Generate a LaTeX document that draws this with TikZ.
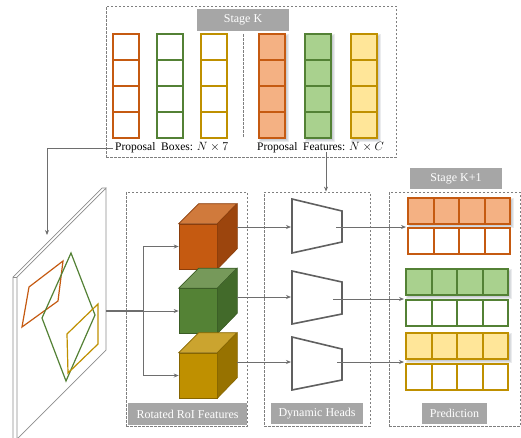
\documentclass[tikz,border=0pt]{standalone}
\usepackage{fontspec}
\setmainfont{Liberation Serif}
\usetikzlibrary{arrows.meta,calc}
\definecolor{orS}{HTML}{C55A11}
\definecolor{orF}{HTML}{F4B183}
\definecolor{grS}{HTML}{538135}
\definecolor{grF}{HTML}{A9D18E}
\definecolor{yeS}{HTML}{BF9000}
\definecolor{yeF}{HTML}{FFE699}
\definecolor{lblgray}{HTML}{A6A6A6}
\definecolor{linegray}{HTML}{6E6E6E}
\definecolor{dashgray}{HTML}{7F7F7F}
\definecolor{planegray}{HTML}{8C8C8C}
\definecolor{headgray}{HTML}{606060}
\definecolor{shadowcol}{HTML}{4A5566}
\definecolor{c1f}{HTML}{C55A11}\definecolor{c1t}{HTML}{D07A3C}\definecolor{c1r}{HTML}{9C450D}\definecolor{c1s}{HTML}{8A3D0B}
\definecolor{c2f}{HTML}{548235}\definecolor{c2t}{HTML}{76995A}\definecolor{c2r}{HTML}{426A2A}\definecolor{c2s}{HTML}{3A5C25}
\definecolor{c3f}{HTML}{BF9000}\definecolor{c3t}{HTML}{CBA42F}\definecolor{c3r}{HTML}{977200}\definecolor{c3s}{HTML}{866500}
\newcommand\vbarcells[4]{%
  \fill[#4] (#1,#2) rectangle ({#1+26},{#2+104});
  \foreach \i in {26,52,78}{\draw[draw=#3,line width=1.5pt] (#1,{#2+\i}) -- ({#1+26},{#2+\i});}
  \draw[draw=#3,line width=1.5pt] (#1,#2) rectangle ({#1+26},{#2+104});}
\newcommand\hrowcells[4]{%
  \fill[#4] (#1,#2) rectangle ({#1+102},{#2+26});
  \foreach \i in {26,51,77}{\draw[draw=#3,line width=1.5pt] ({#1+\i},#2) -- ({#1+\i},{#2+26});}
  \draw[draw=#3,line width=1.5pt] (#1,#2) rectangle ({#1+102},{#2+26});}
\newcommand\softshadow[4]{\foreach \s in {1,2,3,4}{\fill[shadowcol,opacity=0.11] ({#1+4-\s},{#2+4-\s}) rectangle ({#3+\s},{#4+\s});}}
\newcommand\cubefaces[4]{% node, top, right, stroke
  \draw[fill=#2,draw=#4,line width=0.6pt] (#1.north west) -- ++(20,-20) -- ++(38,0) -- (#1.north east) -- cycle;
  \draw[fill=#3,draw=#4,line width=0.6pt] (#1.north east) -- ++(20,-20) -- ++(0,45) -- (#1.south east) -- cycle;}
\begin{document}
\begin{tikzpicture}[x=1pt,y=-1pt,>={Stealth[length=5pt,width=4pt]},
  dashbox/.style={draw=dashgray,dash pattern=on 2.5pt off 1.5pt,line width=0.8pt},
  lbl/.style={fill=lblgray,text=white,inner sep=0pt,font=\fontsize{12}{14}\selectfont},
  conn/.style={draw=linegray,line width=1pt,->},
  plain/.style={draw=linegray,line width=1pt},
  headshape/.style={draw=headgray,line width=1.6pt,fill=white},
  cubefront/.style={minimum width=38pt,minimum height=45pt,inner sep=0pt,line width=0.6pt},
  txt/.style={font=\fontsize{11.5}{13}\selectfont,inner sep=2pt}]
\useasboundingbox (0,0) rectangle (521,437);
% dashed frames
\node[dashbox,minimum width=290pt,minimum height=151pt] (topbox) at (251,81.5) {};
\node[dashbox,minimum width=121pt,minimum height=234pt] (roibox) at (186.5,309) {};
\node[dashbox,minimum width=106pt,minimum height=234pt] (headbox) at (317,309) {};
\node[dashbox,minimum width=131pt,minimum height=234pt] (predbox) at (454.5,309) {};
% labels
\node[lbl,minimum width=92pt,minimum height=22pt] (stagek) at (243,20) {Stage K};
\node[lbl,minimum width=92pt,minimum height=21pt] (stagek1) at (456,178.5) {Stage K+1};
\node[lbl,minimum width=119pt,minimum height=22pt] (roilbl) at (187.5,414) {Rotated RoI Features};
\node[lbl,minimum width=92pt,minimum height=21pt] (headlbl) at (317,413.5) {Dynamic Heads};
\node[lbl,minimum width=65pt,minimum height=21pt] (predlbl) at (454.5,413.5) {Prediction};
% proposal boxes
\vbarcells{113}{34}{orS}{white}
\vbarcells{157}{34}{grS}{white}
\vbarcells{201}{34}{yeS}{white}
\draw[dashgray,dash pattern=on 2.5pt off 1.5pt,line width=0.8pt] (243,34) -- (243,137);
% proposal features
\softshadow{259}{34}{285}{138}
\softshadow{305}{34}{331}{138}
\softshadow{351}{34}{377}{138}
\vbarcells{259}{34}{orS}{orF}
\vbarcells{305}{34}{grS}{grF}
\vbarcells{351}{34}{yeS}{yeF}
\node[txt,anchor=west] (pbtext) at (113,148) {Proposal~~Boxes: $N\times 7$};
\node[txt,anchor=west] (pftext) at (255,148) {Proposal~~Features: $N\times C$};
% image plane
\draw[planegray,line width=0.7pt] (13,440) -- (13,277) -- (102,188) -- (106,188);
\draw[planegray,line width=0.7pt,fill=white] (17,440) -- (17,277) -- (106,188) -- (106,350) -- (17,439);
\draw[planegray,line width=0.7pt] (13,277) -- (17,277);
\draw[orS,line width=1.2pt] (29,287) -- (63,261) -- (58,301) -- (22,327) -- cycle;
\draw[grS,line width=1.2pt] (71,253) -- (95,315) -- (66,381) -- (42,318) -- cycle;
\draw[yeS,line width=1.2pt] (67,334) -- (98,304) -- (98,344) -- (68,373) -- cycle;
\coordinate (planein) at (47,235);
\coordinate (planeout) at (106,311);
\coordinate (br) at (143,311);
% connectors from stage K
\draw[conn] (pbtext.west) -| (planein);
\coordinate (pfout) at (326,152);
\draw[conn] (pfout) -- (pfout |- headbox.north);
% cubes
\node[cubefront,draw=c1s,fill=c1f] (cube1) at (198,246.5) {};
\cubefaces{cube1}{c1t}{c1r}{c1s}
\node[cubefront,draw=c2s,fill=c2f] (cube2) at (198,311) {};
\cubefaces{cube2}{c2t}{c2r}{c2s}
\node[cubefront,draw=c3s,fill=c3f] (cube3) at (198,375.5) {};
\cubefaces{cube3}{c3t}{c3r}{c3s}
\draw[plain,line width=1.3pt] (planeout) -- (br);
\draw[conn] (br) |- (cube1.west);
\draw[conn] (br) -- (cube2.west);
\draw[conn] (br) |- (cube3.west);
% heads
\draw[headshape] (292,199) -- (342,211) -- (342,242) -- (292,253) -- cycle;
\draw[headshape] (292,271) -- (342,282) -- (342,314) -- (292,324) -- cycle;
\draw[headshape] (292,337) -- (342,349) -- (342,380) -- (292,390) -- cycle;
\coordinate (c1out) at (237,227);
\coordinate (c2out) at (237,297);
\coordinate (c3out) at (237,362);
\coordinate (h1in) at (291,227);
\coordinate (h2in) at (291,297);
\coordinate (h3in) at (291,362);
\draw[conn] (c1out) -- (h1in);
\draw[conn] (c2out) -- (h2in);
\draw[conn] (c3out) -- (h3in);
% predictions
\softshadow{408}{198}{510}{224}
\softshadow{406}{269}{508}{295}
\softshadow{406}{333}{508}{359}
\hrowcells{408}{198}{orS}{orF}
\hrowcells{408}{228}{orS}{white}
\hrowcells{406}{269}{grS}{grF}
\hrowcells{406}{300}{grS}{white}
\hrowcells{406}{333}{yeS}{yeF}
\hrowcells{406}{364}{yeS}{white}
\coordinate (h1out) at (336,227);
\coordinate (h2out) at (333,299);
\coordinate (h3out) at (337,362);
\coordinate (p1) at (406,227);
\coordinate (p2) at (404,299);
\coordinate (p3) at (404,362);
\draw[conn] (h1out) -- (p1);
\draw[conn] (h2out) -- (p2);
\draw[conn] (h3out) -- (p3);
\end{tikzpicture}
\end{document}
